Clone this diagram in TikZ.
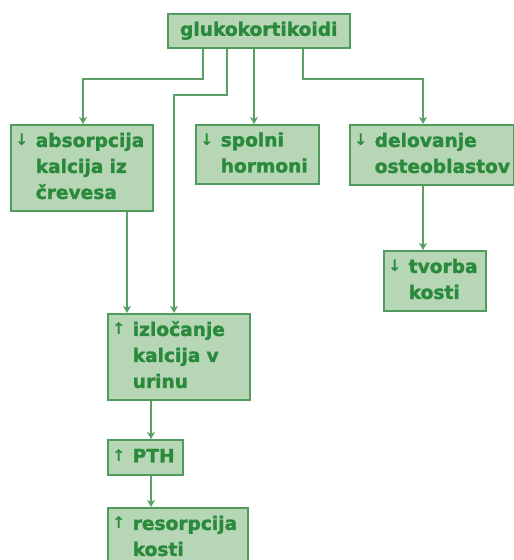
\documentclass[tikz,border=0pt]{standalone}
\usepackage{fontspec}
\setmainfont{DejaVu Sans}[BoldFeatures={FakeBold=1.6}]
\newfontfamily\arrfont{DejaVu Sans}
\usetikzlibrary{arrows.meta}
\definecolor{boxfill}{HTML}{B6D6B6}
\definecolor{boxline}{HTML}{4F9C5D}
\definecolor{txt}{HTML}{2A8A3B}
\definecolor{conncol}{HTML}{5AA065}
\newcommand{\arrsym}[1]{\makebox[12pt][c]{\raisebox{1pt}{\arrfont\bfseries\fontsize{16}{16}\selectfont #1}}\hspace{8pt}}
\newcommand{\lbl}[2]{\mbox{\arrsym{#1}\begin{tabular}[t]{@{}l@{}}#2\end{tabular}}}
\tikzset{
  box/.style={draw=boxline, line width=1.5pt, fill=boxfill, text=txt,
    font=\fontsize{18.6}{26}\selectfont\bfseries, anchor=north west,
    inner xsep=5pt, inner ysep=0pt, align=left},
  conn/.style={draw=conncol, line width=1.4pt, -{Stealth[length=7pt,width=8pt,inset=2pt]}}
}
\begin{document}
\begin{tikzpicture}[x=1pt,y=1pt]
\useasboundingbox (0,0) rectangle (514,-560);
\node[box, align=center, inner xsep=0pt, minimum width=182pt, minimum height=34pt] (glu) at (167,-13) {glukokortikoidi};
\node[box, minimum width=142pt, minimum height=86pt, text width=132pt] (abs) at (10,-124) {\lbl{↓}{absorpcija\\kalcija iz\\črevesa}};
\node[box, minimum width=123pt, minimum height=59pt, text width=113pt] (spo) at (195,-124) {\lbl{↓}{spolni\\hormoni}};
\node[box, minimum width=164pt, minimum height=60pt, text width=154pt] (del) at (349,-124) {\lbl{↓}{delovanje\\osteoblastov}};
\node[box, minimum width=102pt, minimum height=60pt, text width=92pt] (tvo) at (383,-250) {\lbl{↓}{tvorba\\kosti}};
\node[box, minimum width=142pt, minimum height=86pt, text width=132pt] (izl) at (107,-313) {\lbl{↑}{izločanje\\kalcija v\\urinu}};
\node[box, minimum width=75pt, minimum height=35pt, text width=65pt] (pth) at (107,-439) {\lbl{↑}{PTH}};
\node[box, minimum width=140pt, minimum height=60pt, text width=130pt] (res) at (107,-507) {\lbl{↑}{resorpcija\\kosti}};
\coordinate (c1) at (203,-79);
\coordinate (c2) at (227,-95);
\coordinate (c4) at (303,-79);
\draw[conn] (glu.south -| c1) -- (c1) -| ([xshift=73pt]abs.north west);
\draw[conn] (glu.south -| c2) -- (c2) -| ([xshift=67pt]izl.north west);
\draw[conn] ([xshift=87pt]glu.south west) -- ([xshift=59pt]spo.north west);
\draw[conn] (glu.south -| c4) -- (c4) -| ([xshift=74pt]del.north west);
\draw[conn] ([xshift=74pt]del.south west) -- ([xshift=40pt]tvo.north west);
\draw[conn] ([xshift=117pt]abs.south west) -- ([xshift=20pt]izl.north west);
\draw[conn] ([xshift=44pt]izl.south west) -- ([xshift=44pt]pth.north west);
\draw[conn] ([xshift=44pt]pth.south west) -- ([xshift=44pt]res.north west);
\end{tikzpicture}
\end{document}
